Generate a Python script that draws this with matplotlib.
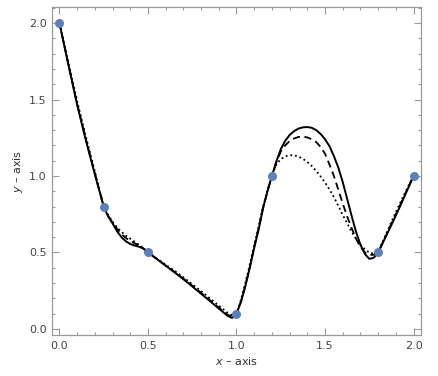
import matplotlib
matplotlib.use("Agg")
import matplotlib.pyplot as plt
from matplotlib.ticker import MultipleLocator

# knots
knot_x = [0.0, 0.25, 0.5, 1.0, 1.2, 1.8, 2.0]
knot_y = [2.0, 0.8, 0.5, 0.1, 1.0, 0.5, 1.0]

# curve samples
curve_x = [0.0, 0.05, 0.1, 0.15, 0.2, 0.25,
           0.275, 0.3, 0.325, 0.35, 0.375, 0.4, 0.425, 0.45, 0.475, 0.5,
           0.55, 0.6, 0.65, 0.7, 0.75, 0.8, 0.85, 0.9, 0.95,
           0.975, 1.0,
           1.025, 1.05, 1.075, 1.1, 1.125, 1.15, 1.175, 1.2,
           1.225, 1.25, 1.275, 1.3, 1.325, 1.35, 1.375, 1.4, 1.425, 1.45, 1.475, 1.5,
           1.525, 1.55, 1.575, 1.6, 1.625, 1.65, 1.675, 1.7, 1.725, 1.75, 1.775, 1.8,
           1.825, 1.85, 1.875, 1.9, 1.925, 1.95, 1.975, 2.0]

solid_y = [2.0, 1.73, 1.465, 1.23, 1.01, 0.8,
           0.735, 0.69, 0.64, 0.60, 0.573, 0.555, 0.545, 0.537, 0.525, 0.5,
           0.457, 0.413, 0.37, 0.325, 0.278, 0.23, 0.182, 0.133, 0.085,
           0.072, 0.1,
           0.175, 0.28, 0.4, 0.53, 0.65, 0.79, 0.9, 1.0,
           1.095, 1.175, 1.23, 1.268, 1.293, 1.31, 1.318, 1.32, 1.315, 1.3, 1.275, 1.24,
           1.195, 1.13, 1.055, 0.96, 0.85, 0.74, 0.635, 0.55, 0.49, 0.458, 0.465, 0.5,
           0.56, 0.62, 0.68, 0.742, 0.805, 0.87, 0.935, 1.0]

dashed_y = [2.0, 1.735, 1.472, 1.238, 1.018, 0.8,
            0.74, 0.695, 0.655, 0.62, 0.595, 0.575, 0.56, 0.545, 0.525, 0.5,
            0.458, 0.415, 0.373, 0.329, 0.283, 0.236, 0.188, 0.14, 0.092,
            0.08, 0.1,
            0.178, 0.283, 0.405, 0.535, 0.655, 0.79, 0.9, 1.0,
            1.09, 1.16, 1.2, 1.228, 1.245, 1.255, 1.258, 1.252, 1.24, 1.222, 1.19, 1.145,
            1.075, 1.0, 0.91, 0.82, 0.735, 0.66, 0.59, 0.535, 0.5, 0.483, 0.485, 0.5,
            0.563, 0.625, 0.688, 0.75, 0.812, 0.876, 0.938, 1.0]

dotted_y = [2.0, 1.745, 1.49, 1.255, 1.03, 0.8,
            0.745, 0.70, 0.665, 0.635, 0.61, 0.59, 0.57, 0.55, 0.527, 0.5,
            0.46, 0.42, 0.38, 0.337, 0.292, 0.247, 0.2, 0.152, 0.105,
            0.09, 0.1,
            0.19, 0.3, 0.42, 0.55, 0.67, 0.8, 0.905, 1.0,
            1.075, 1.11, 1.128, 1.136, 1.135, 1.127, 1.112, 1.092, 1.065, 1.033, 0.997, 0.957,
            0.912, 0.862, 0.805, 0.745, 0.69, 0.635, 0.59, 0.55, 0.52, 0.5, 0.492, 0.5,
            0.57, 0.635, 0.7, 0.763, 0.826, 0.887, 0.945, 1.0]

tick_vals = [0.0, 0.5, 1.0, 1.5, 2.0]
tick_labels = ["0.0", "0.5", "1.0", "1.5", "2.0"]

fig = plt.figure(figsize=(4.38, 3.76), dpi=100)
ax = fig.add_axes([0.1187, 0.109, 0.8425, 0.8724])

ax.plot(curve_x, solid_y, color="black", lw=1.4, solid_joinstyle="round")
ax.plot(curve_x, dashed_y, color="black", lw=1.3, ls=(0, (4, 2.5)))
ax.plot(curve_x, dotted_y, color="black", lw=1.3, ls=(0, (1, 1.6)))
ax.plot(knot_x, knot_y, "o", color="#5E81B5", markersize=6.5, markeredgewidth=0, zorder=5)

ax.set_xlim(-0.042, 2.042)
ax.set_ylim(-0.04, 2.105)

frame_col = "#9a9a9a"
for s in ax.spines.values():
    s.set_color(frame_col)
    s.set_linewidth(0.9)

ax.set_xticks(tick_vals)
ax.set_xticklabels(tick_labels)
ax.set_yticks(tick_vals)
ax.set_yticklabels(tick_labels)
ax.xaxis.set_minor_locator(MultipleLocator(0.1))
ax.yaxis.set_minor_locator(MultipleLocator(0.1))
ax.tick_params(which="both", direction="in", top=True, right=True,
               color=frame_col, width=0.8, labelsize=8, labelcolor="#444444")
ax.tick_params(which="major", length=5, pad=4)
ax.tick_params(which="minor", length=2.5)

ax.set_xlabel("$x$ \u2013 axis", fontsize=8, color="#333333", labelpad=3)
ax.set_ylabel("$y$ \u2013 axis", fontsize=8, color="#333333", labelpad=3)

fig.savefig("out.png", dpi=100)
